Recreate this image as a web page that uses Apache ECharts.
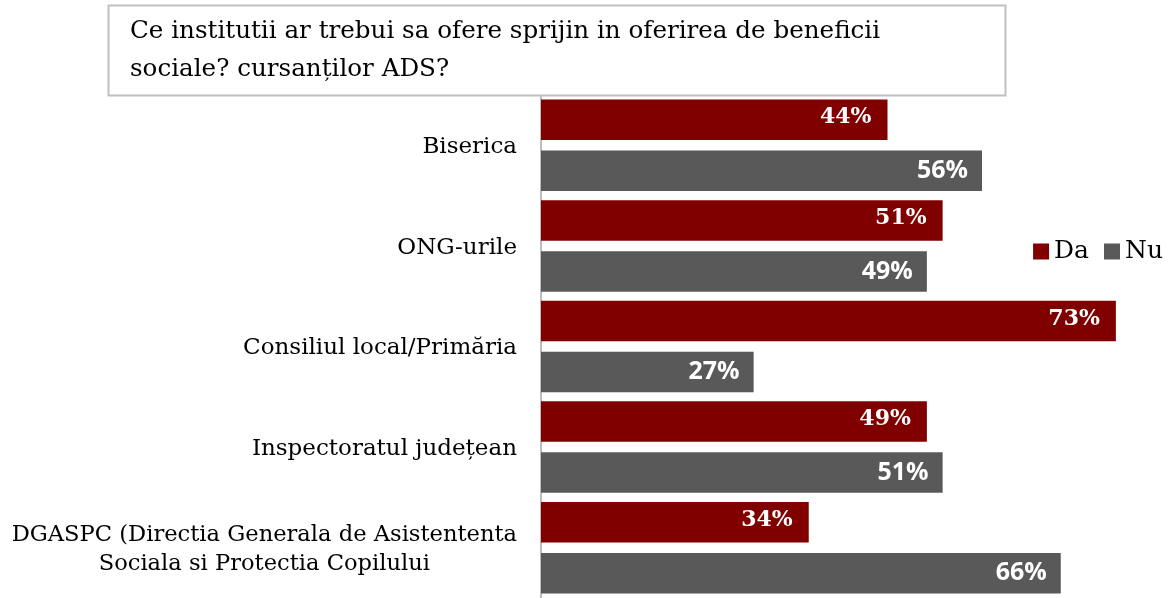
<!DOCTYPE html>
<html>
<head>
<meta charset="utf-8">
<script src="https://cdn.jsdelivr.net/npm/echarts@6/dist/echarts.min.js"></script>
<style>
  html, body { margin: 0; padding: 0; background: #fff; }
  #chart { width: 1171px; height: 598px; }
</style>
</head>
<body>
<div id="chart"></div>
<script>
// categories, top to bottom
var categories = [
  'Biserica',
  'ONG-urile',
  'Consiliul local/Primăria',
  'Inspectoratul județean',
  'DGASPC (Directia Generala de Asistententa\nSociala si Protectia Copilului'
]
var daValues = [44, 51, 73, 49, 34]
var nuValues = [56, 49, 27, 51, 66]
var seriesNames = ['Da', 'Nu']
var titleLines = [
  'Ce institutii ar trebui sa ofere sprijin in oferirea de beneficii',
  'sociale? cursanților ADS?'
]

var serif = '"DejaVu Serif", serif'
var sans = '"Open Sans", "Liberation Sans", sans-serif'

var chart = echarts.init(document.getElementById('chart'))

chart.setOption({
  animation: false,
  backgroundColor: '#fff',
  graphic: [
    {
      type: 'rect',
      shape: { x: 108.5, y: 5.5, width: 897, height: 90 },
      style: { fill: '#fff', stroke: '#bfbfbf', lineWidth: 2 },
      z: 10
    },
    {
      type: 'text',
      left: 130,
      top: 13,
      style: {
        text: titleLines.join('\n'),
        font: '24.6px ' + serif,
        lineHeight: 38,
        fill: '#000'
      },
      z: 11
    }
  ],
  legend: {
    data: seriesNames,
    right: 3,
    top: 234,
    icon: 'rect',
    itemWidth: 16,
    itemHeight: 16,
    itemGap: 15,
    textStyle: { fontFamily: serif, fontSize: 25, color: '#000', padding: [0, 0, 0, 0] }
  },
  grid: {
    left: 541,
    right: 0,
    top: 95,
    height: 512,
    containLabel: false
  },
  xAxis: {
    type: 'value',
    min: 0,
    max: 80,
    show: false
  },
  yAxis: {
    type: 'category',
    inverse: true,
    data: categories,
    axisLine: { show: true, lineStyle: { color: '#a6a6a6', width: 1.5 } },
    axisTick: { show: false },
    axisLabel: {
      margin: 24,
      fontFamily: serif,
      fontSize: 23,
      color: '#000',
      lineHeight: 29,
      padding: [4, 0, 0, 0],
      formatter: function(value) {
        if (value.indexOf('\n') >= 0) {
          return '{c|' + value + '}'
        }
        return value
      },
      rich: {
        c: { align: 'center', fontFamily: serif, fontSize: 22.6, color: '#000', lineHeight: 29 }
      }
    }
  },
  series: [
    {
      name: seriesNames[0],
      type: 'bar',
      data: daValues,
      barGap: '26%',
      barCategoryGap: '9%',
      itemStyle: { color: '#800000' },
      label: {
        show: true,
        position: 'insideRight',
        distance: 16,
        formatter: '{c}%',
        fontFamily: serif,
        fontWeight: 'bold',
        fontSize: 22,
        color: '#fff',
        offset: [0, -2]
      }
    },
    {
      name: seriesNames[1],
      type: 'bar',
      data: nuValues,
      itemStyle: { color: '#595959' },
      label: {
        show: true,
        position: 'insideRight',
        distance: 14,
        formatter: '{c}%',
        fontFamily: sans,
        fontWeight: 'bold',
        fontSize: 25,
        color: '#fff'
      }
    }
  ]
})
</script>
</body>
</html>
